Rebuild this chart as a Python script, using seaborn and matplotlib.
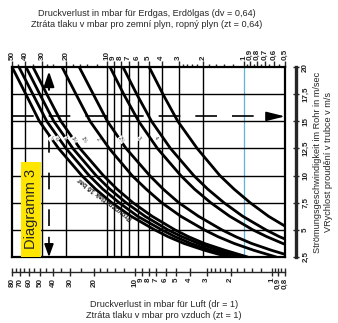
import matplotlib
matplotlib.use("Agg")
import matplotlib.pyplot as plt
from matplotlib.patches import Rectangle
import seaborn as sns
import pandas as pd

# ---------------- data ----------------
velocity = [20, 17.5, 15, 12.5, 10, 8.75, 7.5, 6.25, 5, 4.375, 3.75, 3.125, 2.5]
curve_A = [50, 39.6, 31.5, 22.8, 15.4, 12.2, 9.3, 6.7, 4.5, 3.6, 2.75, 1.95, 1.3]
curve_B = [44.5, 35.2, 27.8, 20.1, 13.6, 10.8, 8.2, 6.0, 4.0, 3.2, 2.45, 1.75, 1.2]
curve_C = [39.5, 31.3, 24.7, 17.9, 12.1, 9.6, 7.3, 5.3, 3.6, 2.85, 2.15, 1.55, 1.06]
curve_D = [35.1, 27.8, 21.9, 15.9, 10.7, 8.5, 6.5, 4.7, 3.2, 2.55, 1.95, 1.38, 0.94]
curve_E = [21.5, 17.0, 13.4, 9.7, 6.6, 5.2, 4.0, 2.9, 1.95, 1.55, 1.18, 0.85, 0.58]
curve_F = [16.1, 12.7, 10.0, 7.3, 4.9, 3.9, 3.0, 2.15, 1.45, 1.15, 0.88, 0.63, 0.43]
curve_G = [9.57, 7.6, 5.9, 4.3, 2.9, 2.3, 1.75, 1.27, 0.86, 0.68, 0.52, 0.37, 0.25]
curve_H = [7.69, 6.1, 4.75, 3.45, 2.33, 1.84, 1.4, 1.02, 0.69, 0.55, 0.42, 0.30, 0.20]
curve_I = [4.95, 3.92, 3.05, 2.2, 1.5, 1.18, 0.9, 0.66, 0.45, 0.35, 0.27, 0.19, 0.13]
curves = {"A": curve_A, "B": curve_B, "C": curve_C, "D": curve_D, "E": curve_E,
          "F": curve_F, "G": curve_G, "H": curve_H, "I": curve_I}

gas_ticks = [50, 40, 30, 20, 10, 9, 8, 7, 6, 5, 4, 3, 2, 1, 0.9, 0.8, 0.7, 0.6, 0.5]
gas_minor = [45, 35, 27.5, 25, 18, 16, 14, 12, 2.8, 2.6, 2.4, 2.2, 1.8, 1.6, 1.4, 1.2,
             0.95, 0.85, 0.75, 0.65, 0.55]
air_ticks = [80, 70, 60, 50, 40, 30, 20, 10, 9, 8, 7, 6, 5, 4, 3, 2, 1, 0.9, 0.8]
air_minor = [75, 65, 55, 45, 35, 25, 18, 16, 14, 12, 2.8, 2.6, 2.4, 2.2, 1.8, 1.6, 1.4, 1.2, 0.95, 0.85]
vel_ticks = [2.5, 5, 7.5, 10, 12.5, 15, 17.5, 20]
grid_gas = [40, 30, 20, 10, 9, 8, 7, 6, 5, 4, 3, 2]
grid_blue = [1]
grid_vel = [5, 7.5, 10, 12.5, 15, 17.5]
air_factor = 1.6

curve_labels = ["½", "¾", "1", "1¼", "1½", "2", "2½", "3", "4"]
curve_label_x = [26.0, 23.5, 20.5, 17.5, 14.8, 11.8, 7.9, 5.9, 4.4]
curve_label_v = [13.4, 13.4, 13.4, 13.3, 13.3, 13.3, 13.3, 13.4, 13.4]

title_top = "Druckverlust in mbar für Erdgas, Erdölgas (dv = 0,64)\nZtráta tlaku v mbar pro zemní plyn, ropný plyn (zt = 0,64)"
title_bottom = "Druckverlust in mbar für Luft (dr = 1)\nZtráta tlaku v mbar pro vzduch (zt = 1)"
title_right = "Strömungsgeschwindigkeit im Rohr in m/sec\nVRychlost proudění v trubce v m/s"
pressure_label = "Provozní tlak 16 bar"
diagram_label = "Diagramm 3"

# ---------------- figure ----------------
sns.set_theme(style="white")
plt.rcParams["font.family"] = ["Liberation Sans", "DejaVu Sans"]

W, H = 338, 323
fig = plt.figure(figsize=(W / 100, H / 100), dpi=100)
L, R, T, B = 12, 285, 67, 257
ax = fig.add_axes([L / W, (H - B) / H, (R - L) / W, (B - T) / H])
ax.set_facecolor("white")

def fmt(v):
    s = ("%g" % v)
    return s.replace(".", ",")

# grid
for g in grid_gas:
    ax.axvline(g, color="black", lw=1.0, zorder=1)
for g in grid_blue:
    ax.axvline(g, color="#5fb3d8", lw=0.9, zorder=1)
for g in grid_vel:
    ax.axhline(g, color="black", lw=1.0, zorder=1)

# curves
rows = []
for name, vals in curves.items():
    for p, v in zip(vals, velocity):
        rows.append({"curve": name, "dp": p, "v": v})
df = pd.DataFrame(rows)
sns.lineplot(data=df, x="dp", y="v", hue="curve", units="curve", estimator=None,
             palette=["black"] * len(curves), legend=False, lw=2.0, sort=False,
             ax=ax, zorder=3)

ax.set_xscale("log")
ax.set_xlim(50, 0.5)
ax.set_ylim(2.5, 20)
ax.set_xlabel("")
ax.set_ylabel("")
for s in ax.spines.values():
    s.set_linewidth(1.6)
    s.set_color("black")

# top axis
ax.xaxis.tick_top()
ax.set_xticks(gas_ticks)
ax.set_xticklabels([fmt(v) for v in gas_ticks], rotation=90, fontsize=5.8, fontweight="bold")
ax.set_xticks(gas_minor, minor=True)
ax.xaxis.set_minor_formatter(matplotlib.ticker.NullFormatter())
ax.tick_params(axis="x", which="major", direction="out", length=4, width=1.0, pad=1,
               top=True, bottom=False)
ax.tick_params(axis="x", which="minor", direction="out", length=2.5, width=1.0,
               top=True, bottom=False)
ax.set_yticks([])

# bottom (air) axis
sec = ax.secondary_xaxis(-0.079, functions=(lambda x: x * air_factor, lambda x: x / air_factor))
sec.set_xticks(air_ticks)
sec.set_xticklabels([fmt(v) for v in air_ticks], rotation=90, fontsize=5.8, fontweight="bold")
sec.set_xticks(air_minor, minor=True)
sec.xaxis.set_minor_formatter(matplotlib.ticker.NullFormatter())
sec.tick_params(axis="x", which="major", direction="inout", length=6, width=1.0, pad=1)
sec.tick_params(axis="x", which="minor", direction="in", length=3, width=1.0)
sec.spines["bottom"].set_linewidth(1.0)

# right (velocity) axis
secy = ax.secondary_yaxis(1.04)
secy.set_yticks(vel_ticks)
secy.set_yticklabels([fmt(v) for v in vel_ticks], rotation=90, fontsize=5.8,
                     fontweight="bold", va="center")
secy.tick_params(axis="y", direction="inout", length=5, width=1.0, pad=2)
secy.spines["right"].set_linewidth(2.4)

# dashed reading lines and arrows
dash_x = 26.8
ax.plot([dash_x, dash_x], [13.6, 4.6], color="black", lw=1.2, dashes=(10, 12), zorder=4)
ax.annotate("", xy=(dash_x, 2.5), xytext=(dash_x, 4.3),
            arrowprops=dict(arrowstyle="-|>,head_length=1.1,head_width=0.4", color="black",
                            lw=1.2, mutation_scale=7, shrinkA=0, shrinkB=0),
            zorder=5)
ax.annotate("", xy=(dash_x, 19.6), xytext=(dash_x, 17.9),
            arrowprops=dict(arrowstyle="-|>,head_length=1.3,head_width=0.45", color="black",
                            lw=1.5, mutation_scale=7, shrinkA=0, shrinkB=0),
            zorder=5)
ax.plot([50, 0.62], [15.45, 15.45], color="black", lw=1.2, dashes=(13, 9), zorder=4)
ax.annotate("", xy=(0.5, 15.45), xytext=(0.66, 15.45),
            arrowprops=dict(arrowstyle="-|>,head_length=1.6,head_width=0.4", color="black",
                            lw=1.2, mutation_scale=7, shrinkA=0, shrinkB=0),
            zorder=5)

# tiny curve labels
for t, x, v in zip(curve_labels, curve_label_x, curve_label_v):
    ax.text(x, v, t, fontsize=3.5, rotation=-55, ha="center", va="center", zorder=6,
            bbox=dict(boxstyle="square,pad=0.05", fc="white", ec="none"))

# pressure label along bundle
ax.text(10.4, 7.9, pressure_label, fontsize=5, rotation=143, ha="center", va="center",
        zorder=6, fontweight="bold")

# Diagramm 3 box
fig.patches.append(Rectangle((21 / W, (H - 257) / H), 20 / W, 95 / H, transform=fig.transFigure,
                             facecolor="#ffe600", edgecolor="none", zorder=2))
fig.text(31 / W, 1 - 209 / H, diagram_label, rotation=90, fontsize=10.5,
         ha="center", va="center", zorder=7)

# titles
fig.text(147 / W, 1 - 19 / H, title_top, ha="center", va="center", fontsize=6.6, linespacing=1.35)
fig.text(164 / W, 1 - 310 / H, title_bottom, ha="center", va="center", fontsize=6.6, linespacing=1.35)
fig.text(323 / W, 1 - 162 / H, title_right, ha="center", va="center", fontsize=6.6,
         rotation=90, linespacing=1.35)

fig.savefig("out.png", dpi=100)
